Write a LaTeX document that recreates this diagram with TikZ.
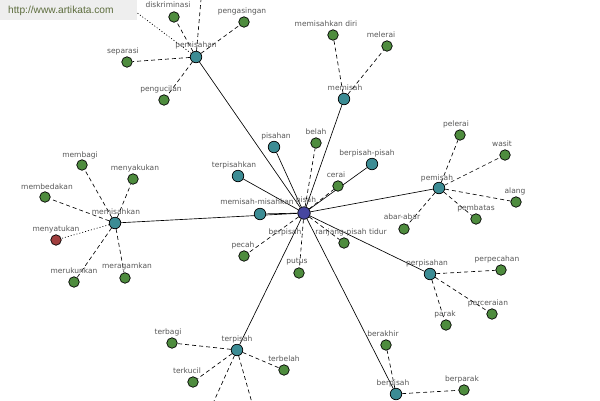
\documentclass[tikz,border=0pt]{standalone}
\usepackage{fontspec}
\setmainfont{DejaVu Sans}
\newfontfamily\bannerfont{Liberation Sans}
\pgfdeclarelayer{bg}
\pgfsetlayers{bg,main}
\definecolor{gfill}{RGB}{78,140,62}
\definecolor{tfill}{RGB}{60,140,148}
\definecolor{cfill}{RGB}{70,70,160}
\definecolor{rfill}{RGB}{160,62,62}
\definecolor{lblc}{RGB}{88,88,88}
\definecolor{bannerbg}{RGB}{238,238,238}
\definecolor{bannertx}{RGB}{92,108,60}
\tikzset{
  base/.style={circle,draw=black,line width=0.7pt,inner sep=0pt},
  gnode/.style={base,fill=gfill,minimum size=10.5pt},
  rnode/.style={base,fill=rfill,minimum size=10.5pt},
  tnode/.style={base,fill=tfill,minimum size=11.5pt},
  cnode/.style={base,fill=cfill,minimum size=12.5pt},
  lbl/.style={font=\fontsize{7.5}{8}\selectfont,text=lblc,inner sep=0pt},
  sedge/.style={draw=black,line width=0.65pt},
  dedge/.style={draw=black,line width=0.65pt,dash pattern=on 4pt off 3pt},
  oedge/.style={draw=black,line width=0.65pt,dash pattern=on 1pt off 2pt},
}
\begin{document}
\begin{tikzpicture}[x=1pt,y=-1pt]
\useasboundingbox (0,0) rectangle (600,400);
\clip (0,0) rectangle (600,400);
% center
\node[cnode] (pisah) at (304,213) {};
% hubs
\node[tnode] (pemisahan) at (196,57) {};
\node[tnode] (memisah) at (344,99) {};
\node[tnode] (pisahan) at (274,147) {};
\node[tnode] (terpisahkan) at (238,176) {};
\node[tnode] (berpisahpisah) at (372,164) {};
\node[tnode] (memisahmisahkan) at (260,214) {};
\node[tnode] (pemisah) at (439,188) {};
\node[tnode] (memisahkan) at (115,223) {};
\node[tnode] (perpisahan) at (430,274) {};
\node[tnode] (terpisah) at (237,350) {};
\node[tnode] (berpisah) at (396,394) {};
% center leaves
\node[gnode] (belah) at (316,143) {};
\node[gnode] (cerai) at (338,186) {};
\node[gnode] (ranjang) at (344,243) {};
\node[gnode] (putus) at (299,273) {};
\node[gnode] (pecah) at (244,256) {};
% pemisahan leaves
\node[gnode] (diskriminasi) at (174,17) {};
\node[gnode] (pengasingan) at (244,22) {};
\node[gnode] (separasi) at (127,62) {};
\node[gnode] (pengucilan) at (164,100) {};
\coordinate (offA) at (202,-12);
\coordinate (offB) at (104,-12);
% memisah leaves
\node[gnode] (memisahkandiri) at (333,35) {};
\node[gnode] (melerai) at (387,46) {};
% memisahkan leaves
\node[gnode] (membagi) at (82,165) {};
\node[gnode] (menyakukan) at (133,179) {};
\node[gnode] (membedakan) at (45,197) {};
\node[rnode] (menyatukan) at (56,240) {};
\node[gnode] (merukunkan) at (74,282) {};
\node[gnode] (meragamkan) at (125,278) {};
% pemisah leaves
\node[gnode] (pelerai) at (460,135) {};
\node[gnode] (wasit) at (505,155) {};
\node[gnode] (alang) at (516,202) {};
\node[gnode] (pembatas) at (476,219) {};
\node[gnode] (abarabar) at (404,229) {};
% perpisahan leaves
\node[gnode] (perpecahan) at (501,270) {};
\node[gnode] (perceraian) at (492,314) {};
\node[gnode] (parak) at (446,325) {};
% terpisah leaves
\node[gnode] (terbagi) at (172,343) {};
\node[gnode] (terkucil) at (193,382) {};
\node[gnode] (terbelah) at (284,370) {};
\coordinate (offC) at (210,410);
\coordinate (offD) at (254,410);
% berpisah leaves
\node[gnode] (berakhir) at (386,345) {};
\node[gnode] (berparak) at (464,390) {};

\begin{pgfonlayer}{bg}
\fill[white] (0,0) rectangle (600,400);
\foreach \t in {pemisahan,memisah,pisahan,terpisahkan,berpisahpisah,memisahmisahkan,memisahkan,pemisah,perpisahan,terpisah,berpisah}
  \path[sedge] (pisah) -- (\t);
\foreach \t in {belah,cerai,ranjang,putus,pecah}
  \path[dedge] (pisah) -- (\t);
\foreach \t in {diskriminasi,pengasingan,separasi,pengucilan,offA}
  \path[dedge] (pemisahan) -- (\t);
\path[oedge] (pemisahan) -- (offB);
\foreach \t in {memisahkandiri,melerai}
  \path[dedge] (memisah) -- (\t);
\foreach \t in {membagi,menyakukan,membedakan,merukunkan,meragamkan}
  \path[dedge] (memisahkan) -- (\t);
\path[oedge] (memisahkan) -- (menyatukan);
\foreach \t in {pelerai,wasit,alang,pembatas,abarabar}
  \path[dedge] (pemisah) -- (\t);
\foreach \t in {perpecahan,perceraian,parak}
  \path[dedge] (perpisahan) -- (\t);
\foreach \t in {terbagi,terkucil,terbelah,offC,offD}
  \path[dedge] (terpisah) -- (\t);
\foreach \t in {berakhir,berparak}
  \path[dedge] (berpisah) -- (\t);
\end{pgfonlayer}

% labels
\node[lbl] (l-pisah) at (306,200) {pisah};
\node[lbl] (l-memisahmisahkan) at (257,202) {memisah-misahkan};
\node[lbl] (l-pisahan) at (276,136) {pisahan};
\node[lbl] (l-belah) at (316,132) {belah};
\node[lbl] (l-terpisahkan) at (234,165) {terpisahkan};
\node[lbl] (l-berpisahpisah) at (367,153) {berpisah-pisah};
\node[lbl] (l-cerai) at (336,175) {cerai};
\node[lbl] (l-ranjang) at (351,232) {ranjang-pisah tidur};
\node[lbl] (l-berpisahc) at (285,232) {berpisah};
\node[lbl] (l-pecah) at (243,245) {pecah};
\node[lbl] (l-putus) at (297,262) {putus};
\node[lbl] (l-memisah) at (345,88) {memisah};
\node[lbl] (l-memisahkandiri) at (326,24) {memisahkan diri};
\node[lbl] (l-melerai) at (381,35) {melerai};
\node[lbl] (l-pengasingan) at (242,11) {pengasingan};
\node[lbl] (l-pemisahan) at (196,45) {pemisahan};
\node[lbl] (l-diskriminasi) at (168,5) {diskriminasi};
\node[lbl] (l-separasi) at (123,51) {separasi};
\node[lbl] (l-pengucilan) at (161,89) {pengucilan};
\node[lbl] (l-membagi) at (80,155) {membagi};
\node[lbl] (l-menyakukan) at (135,168) {menyakukan};
\node[lbl] (l-membedakan) at (47,187) {membedakan};
\node[lbl] (l-memisahkan) at (116,212) {memisahkan};
\node[lbl] (l-menyatukan) at (56,229) {menyatukan};
\node[lbl] (l-merukunkan) at (74,271) {merukunkan};
\node[lbl] (l-meragamkan) at (127,266) {meragamkan};
\node[lbl] (l-terbagi) at (168,332) {terbagi};
\node[lbl] (l-terkucil) at (187,371) {terkucil};
\node[lbl] (l-terpisah) at (237,339) {terpisah};
\node[lbl] (l-terbelah) at (284,359) {terbelah};
\node[lbl] (l-berakhir) at (383,334) {berakhir};
\node[lbl] (l-berpisah) at (393,383) {berpisah};
\node[lbl] (l-berparak) at (462,379) {berparak};
\node[lbl] (l-perpisahan) at (427,263) {perpisahan};
\node[lbl] (l-perpecahan) at (497,259) {perpecahan};
\node[lbl] (l-perceraian) at (488,303) {perceraian};
\node[lbl] (l-parak) at (445,314) {parak};
\node[lbl] (l-pemisah) at (437,178) {pemisah};
\node[lbl] (l-pelerai) at (456,124) {pelerai};
\node[lbl] (l-wasit) at (502,144) {wasit};
\node[lbl] (l-alang) at (515,191) {alang};
\node[lbl] (l-pembatas) at (476,208) {pembatas};
\node[lbl] (l-abarabar) at (402,217) {abar-abar};

% banner
\fill[bannerbg] (0,0) rectangle (137,20);
\node[font=\bannerfont\fontsize{10.2}{12}\selectfont,text=bannertx,anchor=west,inner sep=0pt] (banner) at (8,11) {http://www.artikata.com};
\end{tikzpicture}
\end{document}
